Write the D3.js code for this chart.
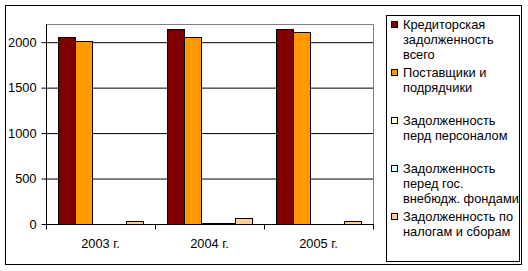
<!DOCTYPE html>
<html>
<head>
<meta charset="utf-8">
<script src="https://cdn.jsdelivr.net/npm/d3@7"></script>
<style>
  body { margin: 0; background: #fff; }
  svg { display: block; font-family: "Liberation Sans", Arial, sans-serif; }
</style>
</head>
<body>
<svg id="chart" width="528" height="271"></svg>
<script>
// data
const years = ['2003 г.', '2004 г.', '2005 г.'];
const seriesNames = [
  ['Кредиторская', 'задолженность', 'всего'],
  ['Поставщики и', 'подрядчики'],
  ['Задолженность', 'перд персоналом'],
  ['Задолженность', 'перед гос.', 'внебюдж. фондами'],
  ['Задолженность по', 'налогам и сборам']
];
const creditTotal = [2060, 2145, 2145];
const suppliers = [2010, 2060, 2110];
const personnel = [0, 8, 0];
const funds = [0, 8, 0];
const taxes = [35, 65, 33];
const yTicks = [0, 500, 1000, 1500, 2000];

const seriesValues = [creditTotal, suppliers, personnel, funds, taxes];
const colors = ['#800000', '#FF9900', '#FFFFCC', '#CCFFFF', '#FFCC99'];
const fs = 12.8;

const svg = d3.select('#chart');

// outer frame
svg.append('rect')
  .attr('x', 5.5).attr('y', 5.5)
  .attr('width', 516).attr('height', 259)
  .attr('fill', 'none').attr('stroke', '#000');

const plot = { left: 46, right: 373, top: 24, bottom: 224 };

const x0 = d3.scaleBand().domain(years).range([plot.left, plot.right]).padding(0);
const x1 = d3.scaleBand().domain(d3.range(seriesValues.length))
  .range([0, x0.bandwidth()]).paddingInner(0).paddingOuter(0.7);
const y = d3.scaleLinear().domain([0, 2200]).range([plot.bottom, plot.top]);

// plot area border (grey top/right)
svg.append('path')
  .attr('d', `M${plot.left},${plot.top + 0.5}H${plot.right + 0.5}V${plot.bottom}`)
  .attr('fill', 'none').attr('stroke', '#808080');

// gridlines
svg.append('g')
  .attr('transform', `translate(${plot.left},0)`)
  .call(d3.axisLeft(y).tickValues(yTicks.filter(d => d > 0)).tickSize(-(plot.right - plot.left)).tickFormat(''))
  .call(g => g.select('.domain').remove())
  .selectAll('line').attr('stroke', '#000');

// bars
years.forEach((yr, i) => {
  seriesValues.forEach((vals, s) => {
    const v = vals[i];
    if (v <= 0) return;
    svg.append('rect')
      .attr('x', Math.round(x0(yr) + x1(s)) + 0.5)
      .attr('y', Math.round(y(v)) + 0.5)
      .attr('width', Math.round(x1.bandwidth()))
      .attr('height', Math.max(0, Math.round(y(0)) - Math.round(y(v))))
      .attr('fill', colors[s])
      .attr('stroke', '#000');
  });
});

// y axis
const yAxis = svg.append('g')
  .attr('transform', `translate(${plot.left + 0.5},0)`)
  .call(d3.axisLeft(y).tickValues(yTicks).tickFormat(d3.format('d')).tickSize(5).tickPadding(5).tickSizeOuter(0));
yAxis.select('.domain').attr('d', `M0,${plot.top}V${plot.bottom}`).attr('stroke', '#000');
yAxis.selectAll('line').attr('stroke', '#000');
yAxis.selectAll('text').attr('font-size', fs).attr('font-family', '"Liberation Sans", Arial, sans-serif').attr('fill', '#000');

// x axis
const xg = svg.append('g').attr('transform', `translate(0,${plot.bottom + 0.5})`);
xg.append('line')
  .attr('x1', plot.left).attr('x2', plot.right + 1)
  .attr('stroke', '#000');
const bounds = years.map(d => x0(d)).concat([plot.right]);
xg.selectAll('.tk').data(bounds).join('line')
  .attr('x1', d => Math.round(d) + 0.5).attr('x2', d => Math.round(d) + 0.5)
  .attr('y1', 0).attr('y2', 5)
  .attr('stroke', '#000');
xg.selectAll('.lbl').data(years).join('text')
  .attr('x', d => x0(d) + x0.bandwidth() / 2)
  .attr('y', 23)
  .attr('text-anchor', 'middle')
  .attr('font-size', fs)
  .text(d => d);

// legend
svg.append('rect')
  .attr('x', 386.5).attr('y', 15.5)
  .attr('width', 133).attr('height', 246)
  .attr('fill', 'none').attr('stroke', '#000');

const lineH = 14.8;
seriesNames.forEach((lines, i) => {
  const base = 29 + i * 48;
  svg.append('rect')
    .attr('x', 391.5).attr('y', base - 7.5)
    .attr('width', 6).attr('height', 6)
    .attr('fill', colors[i]).attr('stroke', '#000');
  const t = svg.append('text')
    .attr('x', 403).attr('y', base)
    .attr('font-size', fs);
  lines.forEach((ln, k) => {
    t.append('tspan').attr('x', 403).attr('y', base + k * lineH).text(ln);
  });
});
</script>
</body>
</html>
